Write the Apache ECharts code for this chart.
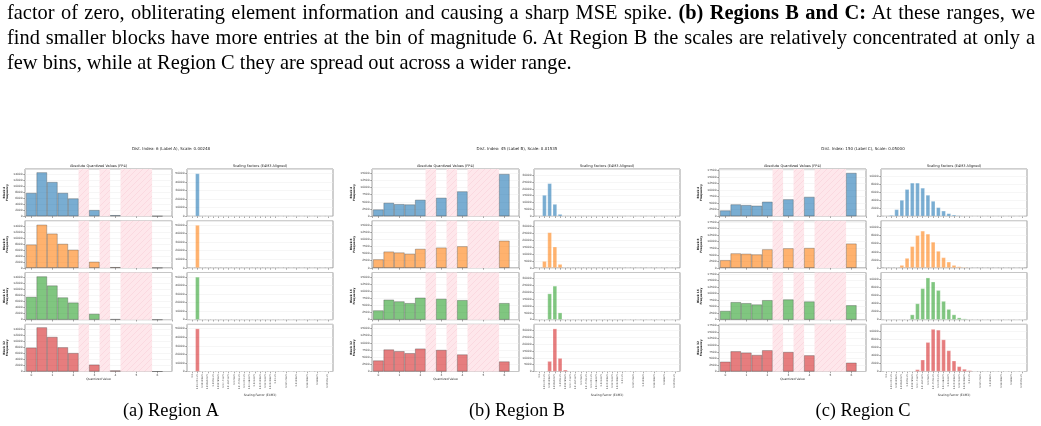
<!DOCTYPE html>
<html>
<head>
<meta charset="utf-8">
<script src="https://cdn.jsdelivr.net/npm/echarts/dist/echarts.min.js"></script>
<style>
  html, body { margin: 0; padding: 0; background: #fff; overflow: hidden; }
  #para { position: absolute; left: 7px; top: -0.5px; width: 1028px;
          font-family: "Liberation Serif", serif; font-size: 20.4px; line-height: 25px; color: #000; }
  #para .j { text-align: justify; text-align-last: justify; }
  #chart { position: absolute; left: 0; top: 0; width: 1041px; height: 426px; }
</style>
</head>
<body>
<div id="chart"></div>
<div id="para">
  <div class="j">factor of zero, obliterating element information and causing a sharp MSE spike. <b>(b) Regions B and C:</b> At these ranges, we</div>
  <div class="j">find smaller blocks have more entries at the bin of magnitude 6. At Region B the scales are relatively concentrated at only a</div>
  <div>few bins, while at Region C they are spread out across a wider range.</div>
</div>
<script>
// ---- data ----
const fp4Values = [0, 0.5, 1, 1.5, 2, 3, 4, 6];
const gapBands = [[2.25, 2.75], [3.25, 3.75], [4.25, 5.75]];
const blockNames = ['Block 4', 'Block 8', 'Block 16', 'Block 32'];
const panelTitles = [
  'Dist. Index: 6 (Label A), Scale: 0.00248',
  'Dist. Index: 45 (Label B), Scale: 0.01535',
  'Dist. Index: 150 (Label C), Scale: 0.05000'
];
const captions = ['(a) Region A', '(b) Region B', '(c) Region C'];
// E4M3 scaling factor ticks (blank = no representable value there)
const scaleLabels = [
  '0.0', '0.001953125', '0.00390625', '0.005859375', '0.0078125', '0.009765625',
  '0.01171875', '0.013671875', '0.015625', '0.017578125', '0.01953125', '0.021484375',
  '0.0234375', '0.025390625', '0.02734375', '0.029296875', '0.03125', '',
  '0.03515625', '', '0.0390625', '', '0.04296875', '', '0.046875', '', '0.05078125'
];

// FP4 magnitude counts, one row per block size
const fp4A = [
  [7750, 14580, 11370, 7750, 5900, 2050, 340, 0],
  [7760, 14360, 11400, 8000, 6050, 2050, 250, 0],
  [7600, 14400, 11370, 7400, 5700, 1950, 200, 0],
  [7950, 14680, 11500, 8050, 6150, 2290, 350, 0]
];
const fp4B = [
  [2350, 4680, 4220, 4100, 5740, 6440, 8670, 14750],
  [3000, 5700, 5380, 4930, 6650, 7100, 7550, 9500],
  [3250, 7000, 6400, 5800, 7700, 7300, 6850, 5800],
  [3850, 7700, 7100, 6400, 8000, 7550, 5950, 3500]
];
const fp4C = [
  [2200, 4500, 4250, 4000, 5520, 6440, 7340, 16500],
  [2970, 5530, 5400, 5150, 7080, 7470, 7600, 9270],
  [3350, 6700, 6300, 5800, 7450, 7730, 6950, 5520],
  [3740, 7720, 7200, 6300, 8100, 7450, 6180, 3360]
];

// scaling factor counts, one entry per scaleLabels slot
const scaleA = [
  [0, 49740, 0, 0, 0, 0, 0, 0, 0, 0,  0, 0, 0, 0, 0, 0, 0, 0, 0, 0,  0, 0, 0, 0, 0, 0, 0],
  [0, 49870, 0, 0, 0, 0, 0, 0, 0, 0,  0, 0, 0, 0, 0, 0, 0, 0, 0, 0,  0, 0, 0, 0, 0, 0, 0],
  [0, 49800, 0, 0, 0, 0, 0, 0, 0, 0,  0, 0, 0, 0, 0, 0, 0, 0, 0, 0,  0, 0, 0, 0, 0, 0, 0],
  [0, 49900, 0, 0, 0, 0, 0, 0, 0, 0,  0, 0, 0, 0, 0, 0, 0, 0, 0, 0,  0, 0, 0, 0, 0, 0, 0]
];
const scaleB = [
  [0, 15400, 23900, 8800, 1460, 0, 0, 0, 0, 0,  0, 0, 0, 0, 0, 0, 0, 0, 0, 0,  0, 0, 0, 0, 0, 0, 0],
  [0, 4900, 25800, 15400, 2700, 200, 0, 0, 0, 0,  0, 0, 0, 0, 0, 0, 0, 0, 0, 0,  0, 0, 0, 0, 0, 0, 0],
  [0, 300, 19000, 24600, 5100, 300, 0, 0, 0, 0,  0, 0, 0, 0, 0, 0, 0, 0, 0, 0,  0, 0, 0, 0, 0, 0, 0],
  [0, 0, 7500, 31200, 9700, 1200, 0, 0, 0, 0,  0, 0, 0, 0, 0, 0, 0, 0, 0, 0,  0, 0, 0, 0, 0, 0, 0]
];
const scaleC = [
  [0, 250, 1670, 4000, 6670, 8250, 8250, 7000, 5250, 3750,  2170, 1330, 670, 330, 170, 80, 0, 0, 0, 0,  0, 0, 0, 0, 0, 0, 0],
  [0, 0, 80, 670, 2420, 5330, 8080, 9170, 8420, 6420,  4170, 2580, 1500, 670, 330, 170, 80, 0, 0, 0,  0, 0, 0, 0, 0, 0, 0],
  [0, 0, 0, 0, 100, 1250, 4000, 7750, 10400, 9400,  7300, 4600, 2600, 1250, 500, 250, 0, 0, 0, 0,  0, 0, 0, 0, 0, 0, 0],
  [0, 0, 0, 0, 0, 0, 500, 2900, 7250, 10500,  10300, 7900, 5200, 2650, 1250, 600, 250, 0, 50, 0,  0, 0, 0, 0, 0, 0, 0]
];

// axis limits per panel
const fp4YMax = [15700, 16500, 18000];
const fp4YStep = [2000, 2500, 2500];
const scYMax = [55000, 34400, 11700];
const scYStep = [10000, 5000, 2000];

const rowColors = ['rgba(31,119,180,0.6)', 'rgba(255,127,14,0.6)', 'rgba(44,160,44,0.6)', 'rgba(214,39,40,0.6)'];

// ---- layout ----
const layout = [
  { fp4: [25, 172], sc: [187, 333], center: 171 },
  { fp4: [372, 519], sc: [534, 680], center: 517 },
  { fp4: [719, 866], sc: [881, 1027], center: 863 }
];
const rowTop = [169, 220.7, 272.5, 324.3];
const rowH = 47.2;
const fp4XRange = [-0.3, 6.7];
const sansFont = 'DejaVu Sans';

function hatchPattern() {
  const c = document.createElement('canvas');
  c.width = 6; c.height = 6;
  const g = c.getContext('2d');
  g.fillStyle = 'rgb(254,231,235)';
  g.fillRect(0, 0, 6, 6);
  g.strokeStyle = 'rgb(249,210,219)';
  g.lineWidth = 0.7;
  g.beginPath();
  g.moveTo(0, 6); g.lineTo(6, 0);
  g.moveTo(-1, 1); g.lineTo(1, -1);
  g.moveTo(5, 7); g.lineTo(7, 5);
  g.stroke();
  return c;
}

function plain(v) { return String(v); }

function drawCharts() {
  const chart = echarts.init(document.getElementById('chart'), null, { renderer: 'canvas' });
  const pattern = { image: hatchPattern(), repeat: 'repeat' };
  const fp4Data = [fp4A, fp4B, fp4C];
  const scData = [scaleA, scaleB, scaleC];
  const scCats = [''].concat(scaleLabels, ['']);

  let grids = [], xAxes = [], yAxes = [], series = [], titles = [];
  const tick = { show: true, length: 1.8, lineStyle: { color: '#555', width: 0.5 } };
  const lbl = { fontSize: 2.9, color: '#3a3a3a', fontFamily: sansFont, margin: 2.5 };
  const split = { show: true, lineStyle: { color: '#ececec', width: 0.5 } };
  const noLine = { show: false, onZero: false };
  const gridBase = { show: true, borderColor: '#9f9f9f', borderWidth: 1, containLabel: false, outerBoundsMode: 'none' };

  for (let p = 0; p < 3; p++) {
    const lay = layout[p];
    titles.push({
      text: panelTitles[p], left: lay.center, top: 147, textAlign: 'center', padding: 0,
      textStyle: { fontSize: 4, fontWeight: 'normal', color: '#222', fontFamily: sansFont }
    });
    titles.push({
      text: 'Absolute Quantized Values (FP4)', left: (lay.fp4[0] + lay.fp4[1]) / 2, top: 164, textAlign: 'center', padding: 0,
      textStyle: { fontSize: 3.5, fontWeight: 'normal', color: '#222', fontFamily: sansFont }
    });
    titles.push({
      text: 'Scaling Factors (E4M3 Aligned)', left: (lay.sc[0] + lay.sc[1]) / 2, top: 164, textAlign: 'center', padding: 0,
      textStyle: { fontSize: 3.5, fontWeight: 'normal', color: '#222', fontFamily: sansFont }
    });
    titles.push({
      text: captions[p], left: lay.center, top: 402, textAlign: 'center', padding: 0,
      textStyle: { fontSize: 18.4, fontWeight: 'normal', color: '#000', fontFamily: 'Liberation Serif' }
    });

    for (let r = 0; r < 4; r++) {
      const last = r === 3;
      // left: FP4 histogram
      grids.push(Object.assign({ left: lay.fp4[0], top: rowTop[r], width: lay.fp4[1] - lay.fp4[0], height: rowH }, gridBase));
      let gi = grids.length - 1;
      xAxes.push({
        gridIndex: gi, type: 'value', min: fp4XRange[0], max: fp4XRange[1], minInterval: 1, maxInterval: 1,
        axisLine: noLine, axisTick: tick, splitLine: { show: false },
        axisLabel: Object.assign({}, lbl, {
          show: last, showMinLabel: false, showMaxLabel: false,
          formatter: v => (Math.abs(v - Math.round(v)) < 1e-6 ? String(Math.round(v)) : '')
        }),
        name: last ? 'Quantized Value' : '', nameLocation: 'middle', nameGap: 6.3,
        nameTextStyle: { fontSize: 3, color: '#333', fontFamily: sansFont }
      });
      yAxes.push({
        gridIndex: gi, type: 'value', min: 0, max: fp4YMax[p], interval: fp4YStep[p],
        axisLine: noLine, axisTick: tick, splitLine: split,
        axisLabel: Object.assign({}, lbl, { showMaxLabel: false, formatter: plain }),
        name: blockNames[r] + '\nFrequency', nameLocation: 'middle', nameRotate: 90, nameGap: 11,
        nameTextStyle: { fontSize: 2.9, fontWeight: 'bold', color: '#222', lineHeight: 3.4, fontFamily: sansFont }
      });
      const barPx = (lay.fp4[1] - lay.fp4[0]) / (fp4XRange[1] - fp4XRange[0]) * 0.5;
      series.push({
        type: 'bar', xAxisIndex: gi, yAxisIndex: gi, barWidth: barPx, silent: true,
        data: fp4Values.map((v, i) => [v, fp4Data[p][r][i]]),
        itemStyle: { color: rowColors[r], borderColor: 'rgba(60,60,60,0.55)', borderWidth: 0.6 },
        markArea: {
          silent: true, label: { show: false },
          itemStyle: { color: pattern },
          data: gapBands.map(b => [{ xAxis: b[0] }, { xAxis: b[1] }])
        }
      });

      // right: scaling factor histogram
      grids.push(Object.assign({ left: lay.sc[0], top: rowTop[r], width: lay.sc[1] - lay.sc[0], height: rowH }, gridBase));
      gi = grids.length - 1;
      const shown = (idx, val) => val !== '';
      xAxes.push({
        gridIndex: gi, type: 'category', data: scCats, boundaryGap: false,
        axisLine: noLine, axisTick: Object.assign({}, tick, { interval: shown }), splitLine: { show: false },
        axisLabel: Object.assign({}, lbl, { show: last, interval: shown, rotate: 90, fontSize: 2.3, margin: 2.5 }),
        name: last ? 'Scaling Factor (E4M3)' : '', nameLocation: 'middle', nameGap: 16.8,
        nameTextStyle: { fontSize: 3, color: '#333', fontFamily: sansFont }
      });
      yAxes.push({
        gridIndex: gi, type: 'value', min: 0, max: scYMax[p], interval: scYStep[p],
        axisLine: noLine, axisTick: tick, splitLine: split,
        axisLabel: Object.assign({}, lbl, { showMaxLabel: false, formatter: plain })
      });
      series.push({
        type: 'bar', xAxisIndex: gi, yAxisIndex: gi, barWidth: '80%', silent: true,
        data: ['-'].concat(scData[p][r], ['-']),
        itemStyle: { color: rowColors[r], borderColor: 'rgba(255,255,255,0.7)', borderWidth: 0.4 }
      });
    }
  }

  chart.setOption({
    animation: false,
    backgroundColor: '#fff',
    title: titles,
    grid: grids,
    xAxis: xAxes,
    yAxis: yAxes,
    series: series
  });
}

drawCharts();
</script>
</body>
</html>
